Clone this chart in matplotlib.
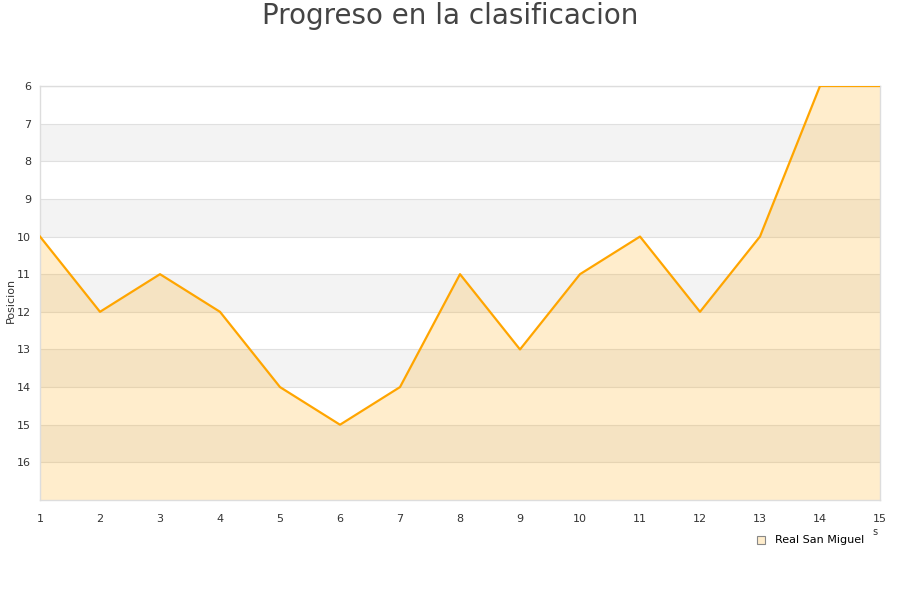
import matplotlib

matplotlib.use("Agg")
import matplotlib.pyplot as plt
from matplotlib.lines import Line2D

jornadas = list(range(1, 16))
posicion = [10, 12, 11, 12, 14, 15, 14, 11, 13, 11, 10, 12, 10, 6, 6]
equipo = "Real San Miguel"

ORANGE = "#ffa500"
GRID = "#e0e0e0"

fig = plt.figure(figsize=(9, 6), dpi=100)
ax = fig.add_axes([40 / 900, 1 - 500 / 600, 840 / 900, 414 / 600])

ymin, ymax = 6, 17
# alternating bands
for y0 in range(7, ymax, 2):
    ax.axhspan(y0, y0 + 1, color="#f3f3f3", lw=0, zorder=0)
for y0 in range(ymin, ymax):
    ax.axhline(y0, color=GRID, lw=0.8, zorder=1)

ax.fill_between(jornadas, posicion, ymax, color=ORANGE, alpha=0.2, lw=0, zorder=2)
ax.plot(jornadas, posicion, color=ORANGE, lw=1.6, zorder=3)

ax.set_xlim(1, 15)
ax.set_ylim(ymax, ymin)
ax.set_xticks(jornadas)
ax.set_yticks(range(6, 17))
ax.tick_params(length=0, labelsize=8, colors="#333333", pad=10)
ax.tick_params(axis="y", pad=6.5)
for sp in ax.spines.values():
    sp.set_color("#dddddd")
    sp.set_linewidth(1)
ax.set_ylabel("Posicion", fontsize=8, color="#333333")
ax.yaxis.set_label_coords(16 / 900, 0.5, transform=fig.transFigure)

fig.text(0.5, 1 - 16 / 600, "Progreso en la clasificacion", ha="center", va="center",
         fontsize=20, color="#444444")
fig.text(875 / 900, 1 - 532 / 600, "s", ha="center", va="center", fontsize=7, color="#333333")

handle = Line2D([], [], marker="s", ls="none", ms=6, mfc="#ffedcc", mec="#888888", mew=0.8)
ax.legend([handle], [equipo], loc="upper left", bbox_to_anchor=(745 / 900, 1 - 531 / 600),
          bbox_transform=fig.transFigure, frameon=False, fontsize=8, handletextpad=0.3,
          borderaxespad=0)

fig.savefig("out.png", dpi=100)
